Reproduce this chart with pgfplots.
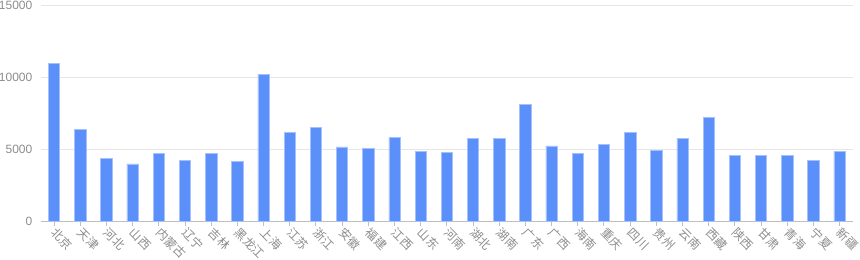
\documentclass[border=0pt]{standalone}
\usepackage{pgfplots}
\pgfplotsset{compat=1.18}
\usepackage{fontspec}
\setmainfont{Liberation Sans}
\newfontfamily\cjk{Noto Sans CJK SC}
\definecolor{barblue}{HTML}{5B8FF9}
\definecolor{labelgray}{HTML}{8C8C8C}
\definecolor{gridgray}{HTML}{E6E6E6}
\definecolor{axisgray}{HTML}{BFBFBF}
\begin{document}
\begin{tikzpicture}
\path[use as bounding box] (0,0) rectangle (645pt,195pt);
\begin{axis}[
  at={(30.75pt,28.7pt)}, anchor=south west,
  scale only axis, width=608.8pt, height=162pt,
  xmin=-0.5, xmax=30.5, ymin=0, ymax=15000,
  axis x line*=bottom, axis y line*=left,
  y axis line style={draw=none},
  x axis line style={-, draw=axisgray, line width=0.75pt},
  ymajorgrids=true,
  major grid style={draw=gridgray, line width=0.75pt},
  ytick={0,5000,10000,15000},
  yticklabels={0,5000,10000,15000},
  ytick style={draw=none},
  yticklabel style={font=\fontsize{9}{9}\selectfont, text=labelgray},
  xtick={0,...,30},
  xticklabels={北京,天津,河北,山西,内蒙古,辽宁,吉林,黑龙江,上海,江苏,浙江,安徽,福建,江西,山东,河南,湖北,湖南,广东,广西,海南,重庆,四川,贵州,云南,西藏,陕西,甘肃,青海,宁夏,新疆},
  tick align=outside,
  major tick length=3pt,
  xtick style={draw=axisgray, line width=0.75pt},
  xticklabel style={font=\cjk\fontsize{9}{9}\selectfont, text=labelgray, yshift=-3.5pt, xshift=-0.5pt, rotate=-45, anchor=west, inner sep=0pt},
]
\addplot[ybar, bar width=8.5pt, fill=barblue, draw=barblue!55!white, line width=0.5pt] coordinates {
(0,11000) (1,6420) (2,4380) (3,4010) (4,4750) (5,4260) (6,4720) (7,4190)
(8,10240) (9,6210) (10,6560) (11,5190) (12,5120) (13,5880) (14,4910) (15,4820)
(16,5790) (17,5790) (18,8150) (19,5260) (20,4750) (21,5350) (22,6210) (23,4980)
(24,5810) (25,7250) (26,4630) (27,4630) (28,4630) (29,4240) (30,4890)
};
\end{axis}
\end{tikzpicture}
\end{document}
